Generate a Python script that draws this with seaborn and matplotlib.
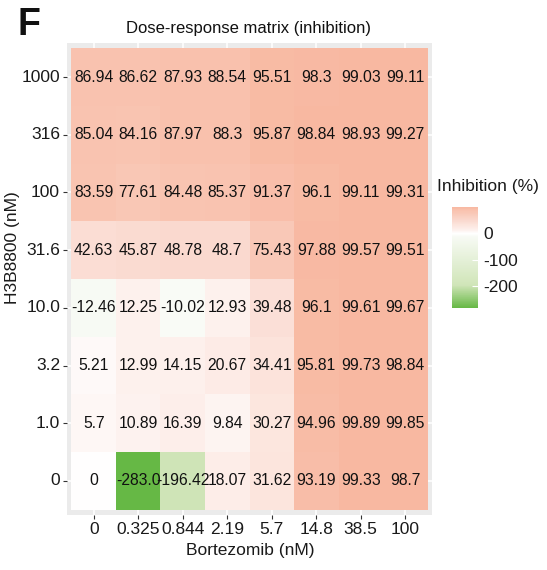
import numpy as np
import pandas as pd
import matplotlib
matplotlib.use("Agg")
import matplotlib.pyplot as plt
import seaborn as sns
from matplotlib.colors import LinearSegmentedColormap

bortezomib = ["0", "0.325", "0.844", "2.19", "5.7", "14.8", "38.5", "100"]
h3b8800 = ["1000", "316", "100", "31.6", "10.0", "3.2", "1.0", "0"]

row_1000 = [86.94, 86.62, 87.93, 88.54, 95.51, 98.3, 99.03, 99.11]
row_316 = [85.04, 84.16, 87.97, 88.3, 95.87, 98.84, 98.93, 99.27]
row_100 = [83.59, 77.61, 84.48, 85.37, 91.37, 96.1, 99.11, 99.31]
row_31_6 = [42.63, 45.87, 48.78, 48.7, 75.43, 97.88, 99.57, 99.51]
row_10 = [-12.46, 12.25, -10.02, 12.93, 39.48, 96.1, 99.61, 99.67]
row_3_2 = [5.21, 12.99, 14.15, 20.67, 34.41, 95.81, 99.73, 98.84]
row_1_0 = [5.7, 10.89, 16.39, 9.84, 30.27, 94.96, 99.89, 99.85]
row_0 = [0, -283.0, -196.42, 18.07, 31.62, 93.19, 99.33, 98.7]

rows = [row_1000, row_316, row_100, row_31_6, row_10, row_3_2, row_1_0, row_0]
df = pd.DataFrame(rows, index=h3b8800, columns=bortezomib, dtype=float)
labels = np.array([[str(v) for v in r] for r in rows])

vmin, vmax = -283.0, 99.89
stops = [(-283.0, "#66B845"), (-196.42, "#D0E5B8"), (-12.46, "#F7FAF4"),
         (0.0, "#FFFFFF"), (12.0, "#FDF1EE"), (35.0, "#FCE3DB"),
         (46.0, "#FADBD1"), (76.0, "#F9C8B7"), (87.0, "#F9C3B0"),
         (99.89, "#F8B8A1")]
cmap = LinearSegmentedColormap.from_list(
    "inh", [((v - vmin) / (vmax - vmin), c) for v, c in stops])

W, H = 547, 570
fig = plt.figure(figsize=(W / 100, H / 100), dpi=100)
plt.rcParams["font.family"] = ["Liberation Sans", "DejaVu Sans"]

def px_axes(x0, y0, x1, y1):
    return fig.add_axes([x0 / W, 1 - y1 / H, (x1 - x0) / W, (y1 - y0) / H])

ax = px_axes(67, 43, 432, 515)
cax = px_axes(452, 207, 478, 308)

ax.set_facecolor("#EBEBEB")
ax.set_axisbelow(True)
sns.heatmap(df, ax=ax, cmap=cmap, vmin=vmin, vmax=vmax, annot=labels, fmt="",
            annot_kws={"fontsize": 11.3, "color": "#111111",
                       "family": ["Liberation Sans", "DejaVu Sans"]},
            cbar_ax=cax, linewidths=0, square=False)

ax.set_xlim(-0.1, 8.1)
ax.set_ylim(8.09, -0.09)
ax.grid(True, color="white", lw=1.1, zorder=0)
for s in ax.spines.values():
    s.set_visible(False)
ax.tick_params(axis="both", length=3, width=0.8, color="#333333",
               labelsize=12.5, labelcolor="#1a1a1a", pad=2)
ax.set_xticklabels(bortezomib, rotation=0)
ax.set_yticklabels(h3b8800, rotation=0)
ax.set_xlabel("")
ax.set_ylabel("")

fig.text(250 / W, 1 - 550 / H, "Bortezomib (nM)", ha="center", va="center",
         fontsize=12.5, color="#1a1a1a")
fig.text(13 / W, 1 - 248 / H, "H3B8800 (nM)", ha="center", va="center",
         rotation=90, fontsize=12.5, color="#1a1a1a")
fig.text(249 / W, 1 - 29 / H, "Dose-response matrix (inhibition)", ha="center",
         va="center", fontsize=12, color="#111111")
fig.text(17 / W, 1 - 25 / H, "F", ha="left", va="center", fontsize=27,
         fontweight="bold", color="#111111")
fig.text(437 / W, 1 - 187 / H, "Inhibition (%)", ha="left", va="center",
         fontsize=12.5, color="#1a1a1a")

cb = ax.collections[0].colorbar
cb.outline.set_visible(False)
cb.set_ticks([0, -100, -200])
cb.set_ticklabels(["0", "-100", "-200"])
cax.tick_params(length=4, width=0.8, color="white", direction="in",
                labelsize=12.5, labelcolor="#1a1a1a", pad=4)

fig.savefig("out.png", dpi=100)
